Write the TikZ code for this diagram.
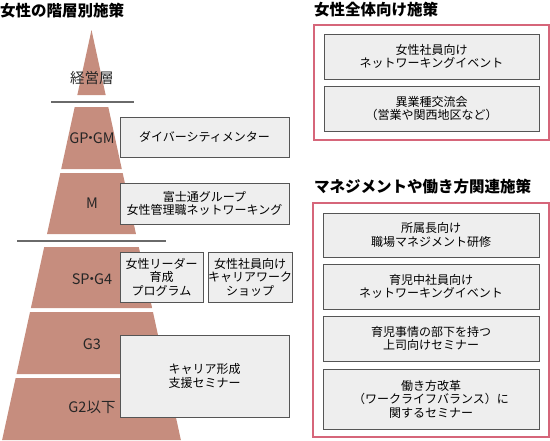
\documentclass[tikz,border=0pt]{standalone}
\usepackage{fontspec}
\setmainfont{Noto Sans CJK JP}
\usepackage{tikz}
\usetikzlibrary{positioning}

\definecolor{pyrcol}{HTML}{C68D7E}
\definecolor{framecol}{HTML}{D6667A}
\definecolor{boxfill}{HTML}{EEEEEE}
\definecolor{boxline}{HTML}{555555}
\definecolor{sepcol}{HTML}{6A6A6A}

\begin{document}
\begin{tikzpicture}[
  x=1pt,y=-1pt,
  box/.style={draw=boxline,fill=boxfill,line width=1pt,align=center,inner sep=0pt,
    text=black,font=\fontsize{12}{13.5}\selectfont},
  redframe/.style={draw=framecol,line width=1.3pt,inner sep=0pt},
  level/.style={font=\fontsize{14.5}{16}\selectfont,text=black!85},
  title/.style={anchor=west,inner sep=0pt,font=\fontsize{15.5}{17}\bfseries\selectfont},
  node distance=6pt
]
\useasboundingbox (0,0) rectangle (550,440);

% frames first
\node[redframe, minimum width=235pt, minimum height=115pt] (frm_all) at (431.5,82.5) {};
\node[redframe, minimum width=236pt, minimum height=234pt] (frm_mgmt) at (431,320) {};

% pyramid
\fill[pyrcol] (91.5,30) -- ({91.5+65*0.218},95) -- ({91.5-65*0.218},95) -- cycle;
\foreach \t/\b in {107/169,173/234,247/308,312/374,378/440}
  \fill[pyrcol] ({91.5-(\t-30)*0.218},\t) -- ({91.5+(\t-30)*0.218},\t)
    -- ({91.5+(\b-30)*0.218},\b) -- ({91.5-(\b-30)*0.218},\b) -- cycle;
\draw[sepcol,line width=1.6pt] (51,102) -- (134,102);
\draw[sepcol,line width=1.6pt] (17,241) -- (166,241);

\node[level] (lv_exec) at (92,78) {経営層};
\node[level] (lv_gp) at (92,138) {GP{\kern-5pt}・{\kern-5pt}GM};
\node[level] (lv_m) at (92,203) {M};
\node[level] (lv_sp) at (92,279) {SP{\kern-5pt}・{\kern-5pt}G4};
\node[level] (lv_g3) at (92,344) {G3};
\node[level] (lv_g2) at (92,407) {G2以下};

% titles
\node[title] (ttl_level) at (0,11) {女性の階層別施策};
\node[title] (ttl_all) at (314,10) {女性全体向け施策};
\node[title] (ttl_mgmt) at (314,187) {マネジメントや働き方関連施策};

% level boxes
\node[box, minimum width=169pt, minimum height=40pt] (mentor) at (204.5,137) {ダイバーシティメンター};
\node[box, minimum width=169pt, minimum height=41pt] (network_m) at (204.5,203.5) {富士通グループ\\女性管理職ネットワーキング};
\node[box, minimum width=83pt, minimum height=50pt] (leader) at (161.5,277) {女性リーダー\\育成\\プログラム};
\node[box, minimum width=82pt, minimum height=50pt, right=4pt of leader] (workshop) {女性社員向け\\キャリアワーク\\ショップ};
\node[box, minimum width=169pt, minimum height=82pt] (career) at (204.5,376) {キャリア形成\\支援セミナー};

% all women
\node[box, minimum width=215pt, minimum height=45pt] (event) at (431.5,56.5) {女性社員向け\\ネットワーキングイベント};
\node[box, minimum width=215pt, minimum height=45pt, below=of event] (exchange) {異業種交流会\\（営業や関西地区など）};

% management
\node[box, minimum width=216pt, minimum height=44pt] (manager) at (431,235) {所属長向け\\職場マネジメント研修};
\node[box, minimum width=216pt, minimum height=45pt, below=of manager] (parents) {育児中社員向け\\ネットワーキングイベント};
\node[box, minimum width=216pt, minimum height=45pt, below=of parents] (boss) {育児事情の部下を持つ\\上司向けセミナー};
\node[box, minimum width=216pt, minimum height=60pt, below=7pt of boss] (reform) {働き方改革\\（ワークライフバランス）に\\関するセミナー};
\end{tikzpicture}
\end{document}
